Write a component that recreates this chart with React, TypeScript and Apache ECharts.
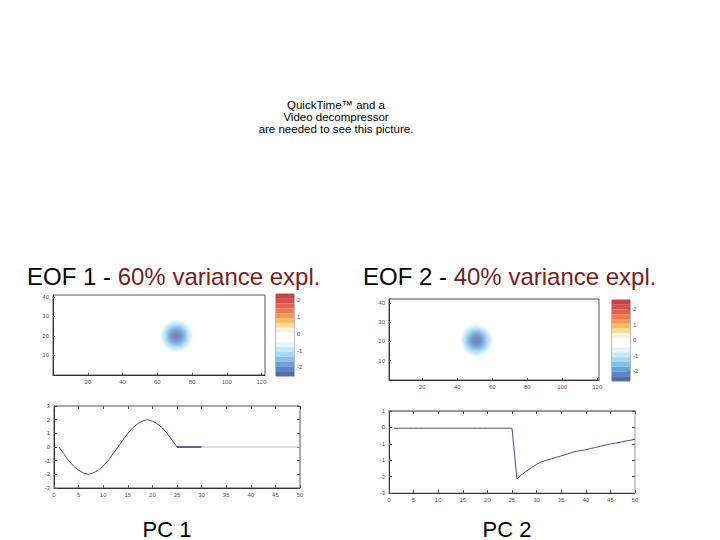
import React, { useEffect, useRef } from "react";
import * as echarts from "echarts";

// ---- data ----
const FONT = "Liberation Sans, Arial, Helvetica, sans-serif";

const quickTimeLines = ["QuickTime™ and a", "Video decompressor", "are needed to see this picture."];

const eofTitles = [
  { head: "EOF 1 - ", tail: "60% variance expl." },
  { head: "EOF 2 - ", tail: "40% variance expl." },
];
const pcTitles = ["PC 1", "PC 2"];

// EOF blob centres [x, y]
const eof1Center = [[71, 20]];
const eof2Center = [[51, 20.5]];

const mapXTicks = [20, 40, 60, 80, 100, 120];
const mapYTicks = [10, 20, 30, 40];
const cbarTicks = [-2, -1, 0, 1, 2];

// colour bar bands, top (high) to bottom (low)
const cbarColors = [
  "#c4443f", "#d6514a", "#e5614f", "#ef7a51", "#f59a56", "#f8bb66", "#fbdc96", "#fdf3d8",
  "#ffffff", "#ffffff", "#e4f5fb", "#c7eaf7", "#a5d8f2", "#85c0eb", "#69a1db", "#5a84c3", "#536ba8",
];
const cbar1Range = [-2.52, 2.38];
const cbar2Range = [-2.65, 2.6];

// PC 1 (x = 1..25), flat part (25..30), tail (30..50)
const pc1Values = [
  0, -0.5, -1.0, -1.4, -1.7, -1.9, -2.0, -1.9, -1.7, -1.4, -1.0, -0.5, 0,
  0.5, 1.0, 1.4, 1.7, 1.9, 2.0, 1.9, 1.7, 1.4, 1.0, 0.5, 0,
];
const pc1FlatX = [25, 26, 27, 28, 29, 30];
const pc1FlatValues = [0, 0, 0, 0, 0, 0];
const pc1TailX = [30, 35, 40, 45, 50];
const pc1TailValues = [0, 0, 0, 0, 0];

// PC 2 (x = 1..50)
const pc2Values = [
  0.16, 0.16, 0.16, 0.16, 0.16, 0.16, 0.16, 0.16, 0.16, 0.16,
  0.16, 0.16, 0.16, 0.16, 0.16, 0.16, 0.16, 0.16, 0.16, 0.16,
  0.16, 0.16, 0.16, 0.16, 0.16, -2.32, -2.1, -1.92, -1.76, -1.6,
  -1.48, -1.4, -1.33, -1.26, -1.19, -1.12, -1.04, -0.97, -0.93, -0.89,
  -0.83, -0.78, -0.72, -0.66, -0.61, -0.57, -0.52, -0.47, -0.43, -0.38,
];

const lineXInterval = 5;

// ---- helpers ----
const tinyLabel = { fontSize: 6, color: "#555", fontFamily: FONT, margin: 4 };

function bands(range: number[]) {
  const step = (range[1] - range[0]) / cbarColors.length;
  return cbarColors.map((_, i) => [range[1] - (i + 1) * step, range[1] - i * step, i]);
}

const blobColor = new echarts.graphic.RadialGradient(0.5, 0.5, 0.5, [
  { offset: 0, color: "#4a66a4" },
  { offset: 0.22, color: "#4f74b8" },
  { offset: 0.42, color: "#64a0dc" },
  { offset: 0.62, color: "#9fd6f3" },
  { offset: 0.82, color: "#dcf3fb" },
  { offset: 1, color: "rgba(255,255,255,0)" },
]);

function cbarRender(params: any, api: any) {
  const lo = api.value(0);
  const hi = api.value(1);
  const a = api.coord([0, hi]);
  const b = api.coord([1, lo]);
  return {
    type: "rect",
    shape: { x: a[0], y: a[1], width: b[0] - a[0], height: b[1] - a[1] },
    style: { fill: cbarColors[api.value(2)] },
  };
}

export default function App() {
  const ref = useRef<HTMLDivElement>(null);
  useEffect(() => {
    if (!ref.current) return;
    const chart = echarts.init(ref.current, undefined, { renderer: "svg" });

    const axLine = { show: true, onZero: false, lineStyle: { color: "#333", width: 1 } };
    const noLine = { show: false, onZero: false };
    const hiddenAxis = { show: false, type: "value", min: 0, max: 1 };
    const tick = (len: number, extra: any = {}) => ({
      show: true, inside: true, length: len, lineStyle: { color: "#555" }, ...extra,
    });

    const option: any = {
      animation: false,
      backgroundColor: "#fff",
      title: eofTitles.map((t, i) => ({
        text: `{a|${t.head}}{b|${t.tail}}`,
        left: i === 0 ? 27 : 363,
        top: 264,
        padding: 0,
        textStyle: {
          fontWeight: "normal",
          rich: {
            a: { fontSize: 24, fontWeight: "normal", color: "#000", fontFamily: FONT },
            b: { fontSize: 24, fontWeight: "normal", color: "#7a1d1d", fontFamily: FONT },
          },
        },
      })),
      graphic: [
        ...quickTimeLines.map((l, i) => ({
          type: "text",
          x: 336,
          y: 105 + i * 12,
          style: { text: l, font: `11.5px ${FONT}`, fill: "#000", align: "center", verticalAlign: "middle" },
        })),
        ...pcTitles.map((t, i) => ({
          type: "text",
          x: i === 0 ? 167 : 507,
          y: 529,
          style: { text: t, font: `22px ${FONT}`, fill: "#000", align: "center", verticalAlign: "middle" },
        })),
      ],
      grid: [
        { left: 53, top: 295, width: 212, height: 80, show: true, borderColor: "#555", borderWidth: 1 },
        { left: 276, top: 294, width: 18, height: 82, show: true, borderColor: "#777", borderWidth: 1 },
        { left: 389, top: 299, width: 210, height: 81, show: true, borderColor: "#555", borderWidth: 1 },
        { left: 612, top: 300, width: 18, height: 81, show: true, borderColor: "#777", borderWidth: 1 },
        { left: 54, top: 406, width: 246, height: 82, show: true, borderColor: "#555", borderWidth: 1 },
        { left: 389, top: 411, width: 246, height: 82, show: true, borderColor: "#999", borderWidth: 1 },
      ],
      xAxis: [
        {
          gridIndex: 0, type: "value", min: 0, max: 122, axisLine: axLine, splitLine: { show: false },
          axisTick: tick(2, { customValues: mapXTicks }),
          axisLabel: { ...tinyLabel, customValues: mapXTicks },
        },
        { gridIndex: 1, ...hiddenAxis },
        {
          gridIndex: 2, type: "value", min: 1, max: 121, axisLine: axLine, splitLine: { show: false },
          axisTick: tick(2, { customValues: mapXTicks }),
          axisLabel: { ...tinyLabel, customValues: mapXTicks },
        },
        { gridIndex: 3, ...hiddenAxis },
        {
          gridIndex: 4, type: "value", min: 0, max: 50, interval: lineXInterval, axisLine: axLine,
          splitLine: { show: false }, axisTick: tick(3), axisLabel: tinyLabel,
        },
        {
          gridIndex: 5, type: "value", min: 0, max: 50, interval: lineXInterval, axisLine: axLine,
          splitLine: { show: false }, axisTick: tick(3), axisLabel: tinyLabel,
        },
        {
          gridIndex: 4, type: "value", position: "top", min: 0, max: 50, interval: lineXInterval,
          axisLine: noLine, splitLine: { show: false }, axisTick: tick(3), axisLabel: { show: false },
        },
        {
          gridIndex: 5, type: "value", position: "top", min: 0, max: 50, interval: lineXInterval,
          axisLine: { show: true, onZero: false, lineStyle: { color: "#999", width: 2 } },
          splitLine: { show: false }, axisTick: tick(3), axisLabel: { show: false },
        },
      ],
      yAxis: [
        {
          gridIndex: 0, type: "value", min: 0, max: 41, axisLine: axLine, splitLine: { show: false },
          axisTick: tick(2, { customValues: mapYTicks }),
          axisLabel: { ...tinyLabel, customValues: mapYTicks },
        },
        {
          gridIndex: 1, type: "value", position: "right", min: cbar1Range[0], max: cbar1Range[1],
          axisLine: noLine, splitLine: { show: false },
          axisTick: tick(2, { customValues: cbarTicks, lineStyle: { color: "#333" } }),
          axisLabel: { ...tinyLabel, margin: 3, customValues: cbarTicks },
        },
        {
          gridIndex: 2, type: "value", min: 0, max: 42, axisLine: axLine, splitLine: { show: false },
          axisTick: tick(2, { customValues: mapYTicks }),
          axisLabel: { ...tinyLabel, customValues: mapYTicks },
        },
        {
          gridIndex: 3, type: "value", position: "right", min: cbar2Range[0], max: cbar2Range[1],
          axisLine: noLine, splitLine: { show: false },
          axisTick: tick(2, { customValues: cbarTicks, lineStyle: { color: "#333" } }),
          axisLabel: { ...tinyLabel, margin: 3, customValues: cbarTicks },
        },
        {
          gridIndex: 4, type: "value", min: -3, max: 3, interval: 1, axisLine: axLine,
          splitLine: { show: false }, axisTick: tick(3), axisLabel: tinyLabel,
        },
        {
          gridIndex: 5, type: "value", min: -3, max: 1, interval: 0.8, axisLine: axLine,
          splitLine: { show: false }, axisTick: tick(3),
          axisLabel: { ...tinyLabel, formatter: (v: number) => String(Math.round(v)) },
        },
        {
          gridIndex: 4, type: "value", position: "right", min: -3, max: 3, interval: 1,
          axisLine: noLine, splitLine: { show: false }, axisTick: tick(3), axisLabel: { show: false },
        },
        {
          gridIndex: 5, type: "value", position: "right", min: -3, max: 1, interval: 0.8,
          axisLine: noLine, splitLine: { show: false }, axisTick: tick(3), axisLabel: { show: false },
        },
      ],
      series: [
        {
          type: "scatter", xAxisIndex: 0, yAxisIndex: 0, data: eof1Center, symbol: "circle", symbolSize: 36,
          itemStyle: { color: blobColor }, silent: true,
        },
        { type: "custom", xAxisIndex: 1, yAxisIndex: 1, data: bands(cbar1Range), renderItem: cbarRender, silent: true },
        {
          type: "scatter", xAxisIndex: 2, yAxisIndex: 2, data: eof2Center, symbol: "circle", symbolSize: 36,
          itemStyle: { color: blobColor }, silent: true,
        },
        { type: "custom", xAxisIndex: 3, yAxisIndex: 3, data: bands(cbar2Range), renderItem: cbarRender, silent: true },
        {
          type: "line", xAxisIndex: 4, yAxisIndex: 4, showSymbol: false, silent: true,
          data: pc1Values.map((v, i) => [i + 1, v]),
          lineStyle: { color: "#4a4a92", width: 1 },
        },
        {
          type: "line", xAxisIndex: 4, yAxisIndex: 4, showSymbol: false, silent: true,
          data: pc1FlatValues.map((v, i) => [pc1FlatX[i], v]),
          lineStyle: { color: "#2e2e78", width: 1.6 },
        },
        {
          type: "line", xAxisIndex: 4, yAxisIndex: 4, showSymbol: false, silent: true,
          data: pc1TailValues.map((v, i) => [pc1TailX[i], v]),
          lineStyle: { color: "#b8b8dc", width: 1 },
        },
        {
          type: "line", xAxisIndex: 5, yAxisIndex: 5, showSymbol: false, silent: true,
          data: pc2Values.map((v, i) => [i + 1, v]),
          lineStyle: { color: "#4a4a92", width: 1 },
        },
      ],
    };
    chart.setOption(option);
    return () => chart.dispose();
  }, []);

  return (
    <div
      ref={ref}
      style={{ position: "fixed", left: 0, top: 0, width: 720, height: 540, background: "#fff" }}
    />
  );
}
